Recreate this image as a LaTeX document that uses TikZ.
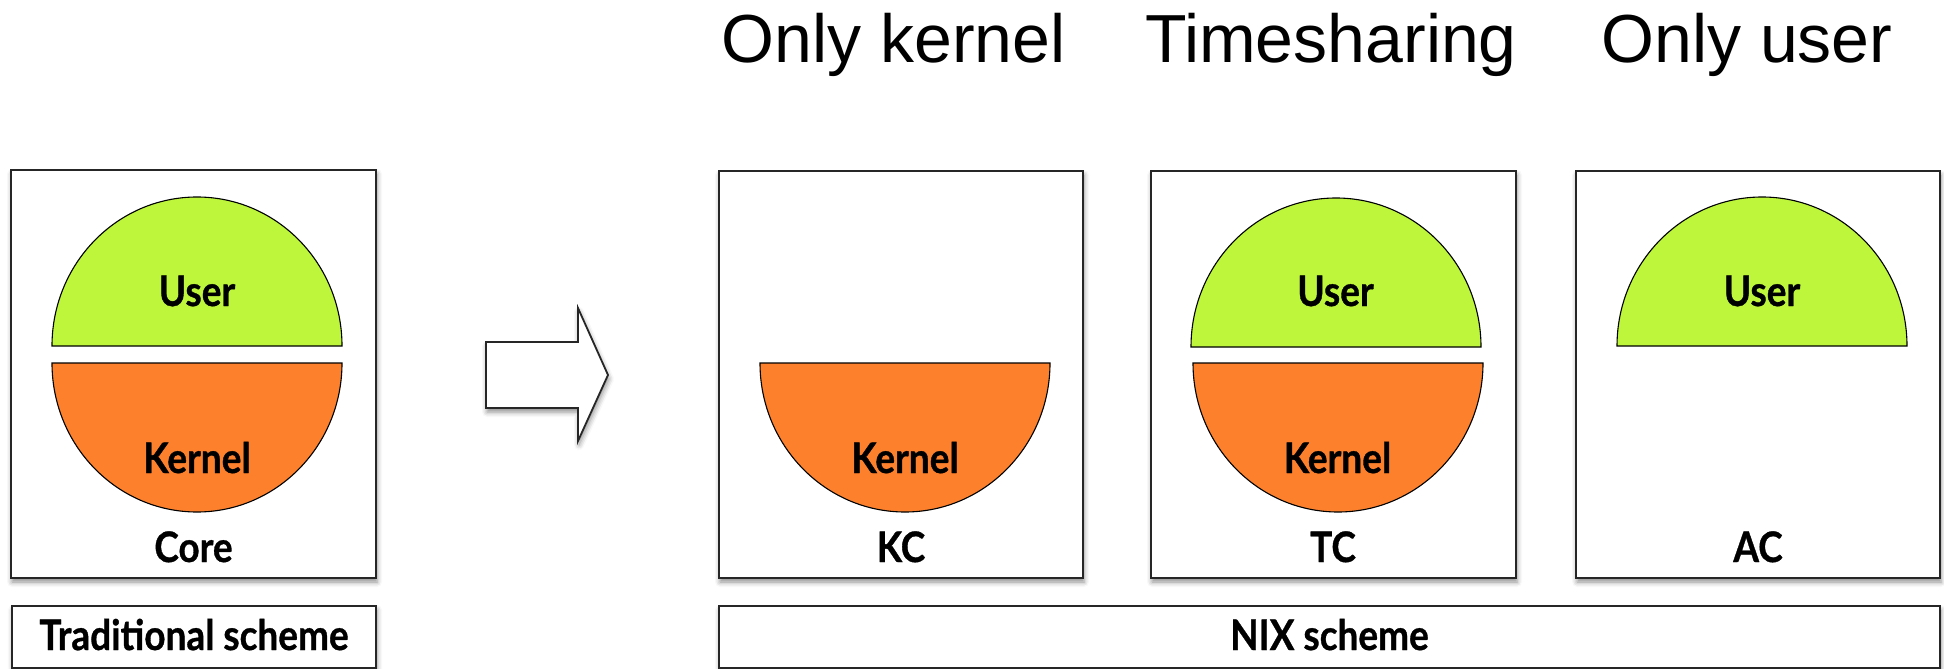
\documentclass[tikz,border=0pt]{standalone}
\usepackage{fontspec}
\setmainfont{Liberation Sans}
\newfontfamily\lblfont{Lato}[FakeStretch=0.88, BoldFeatures={FakeBold=0.8}]
\usetikzlibrary{shadows.blur}
\definecolor{userg}{RGB}{190,246,60}
\definecolor{kernelo}{RGB}{253,128,44}

\begin{document}
\begin{tikzpicture}[x=1pt,y=-1pt,
  panel/.style={draw=black!85, line width=1.8pt, fill=white, inner sep=0pt,
    blur shadow={shadow xshift=1pt, shadow yshift=-4pt, shadow blur radius=5pt, shadow opacity=45}},
  half/.style={draw=black, line width=1.1pt},
  heading/.style={anchor=base, font=\fontsize{68}{80}\selectfont, inner sep=0pt},
  tag/.style={anchor=base, font=\lblfont\bfseries\fontsize{42}{50}\selectfont, inner sep=0pt}]
\useasboundingbox (0,0) rectangle (1944,669);

% column headings
\node[heading] (hk) at (893.5,63) {Only kernel};
\node[heading] (ht) at (1331,63) {Timesharing};
\node[heading] (hu) at (1747,63) {Only user};

% core panels
\node[panel, minimum width=365pt, minimum height=408pt] (core) at (193.5,374) {};
\node[panel, minimum width=364pt, minimum height=407pt] (kc) at (901,374.5) {};
\node[panel, minimum width=365pt, minimum height=407pt] (tc) at (1333.5,374.5) {};
\node[panel, minimum width=364pt, minimum height=407pt] (ac) at (1758,374.5) {};

% scheme captions
\node[panel, minimum width=364pt, minimum height=62pt] (trad) at (194,637) {};
\node[panel, minimum width=1221pt, minimum height=62pt] (nix) at (1329.5,637) {};
\node[tag] (tradl) at (194,650) {Traditional scheme};
\node[tag] (nixl) at (1329.5,650) {NIX scheme};

% transition arrow
\draw[draw=black!85, line width=1.8pt, fill=white, line join=miter,
  blur shadow={shadow xshift=1pt, shadow yshift=-4pt, shadow blur radius=5pt, shadow opacity=45}]
  (486,342) -- (578,342) -- (578,308) -- (608,375) -- (578,441) -- (578,408) -- (486,408) -- cycle;

% traditional core: user over kernel
\draw[half, fill=userg] (52,346) arc[start angle=180, end angle=0, x radius=145pt, y radius=149pt] -- cycle;
\draw[half, fill=kernelo] (52,363) arc[start angle=180, end angle=360, x radius=145pt, y radius=149pt] -- cycle;
\node[tag] (cu) at (197,306) {User};
\node[tag] (ck) at (197,473) {Kernel};
\node[tag] (cl) at (193.5,562) {Core};

% kernel core
\draw[half, fill=kernelo] (760,363) arc[start angle=180, end angle=360, x radius=145pt, y radius=149pt] -- cycle;
\node[tag] (kk) at (905,473) {Kernel};
\node[tag] (kl) at (901,562) {KC};

% timesharing core
\draw[half, fill=userg] (1191,347) arc[start angle=180, end angle=0, x radius=145pt, y radius=149pt] -- cycle;
\draw[half, fill=kernelo] (1193,363) arc[start angle=180, end angle=360, x radius=145pt, y radius=149pt] -- cycle;
\node[tag] (tu) at (1335.5,306) {User};
\node[tag] (tk) at (1337.5,473) {Kernel};
\node[tag] (tl) at (1333,562) {TC};

% application core
\draw[half, fill=userg] (1617,346) arc[start angle=180, end angle=0, x radius=145pt, y radius=149pt] -- cycle;
\node[tag] (au) at (1762,306) {User};
\node[tag] (al) at (1758,562) {AC};
\end{tikzpicture}
\end{document}
